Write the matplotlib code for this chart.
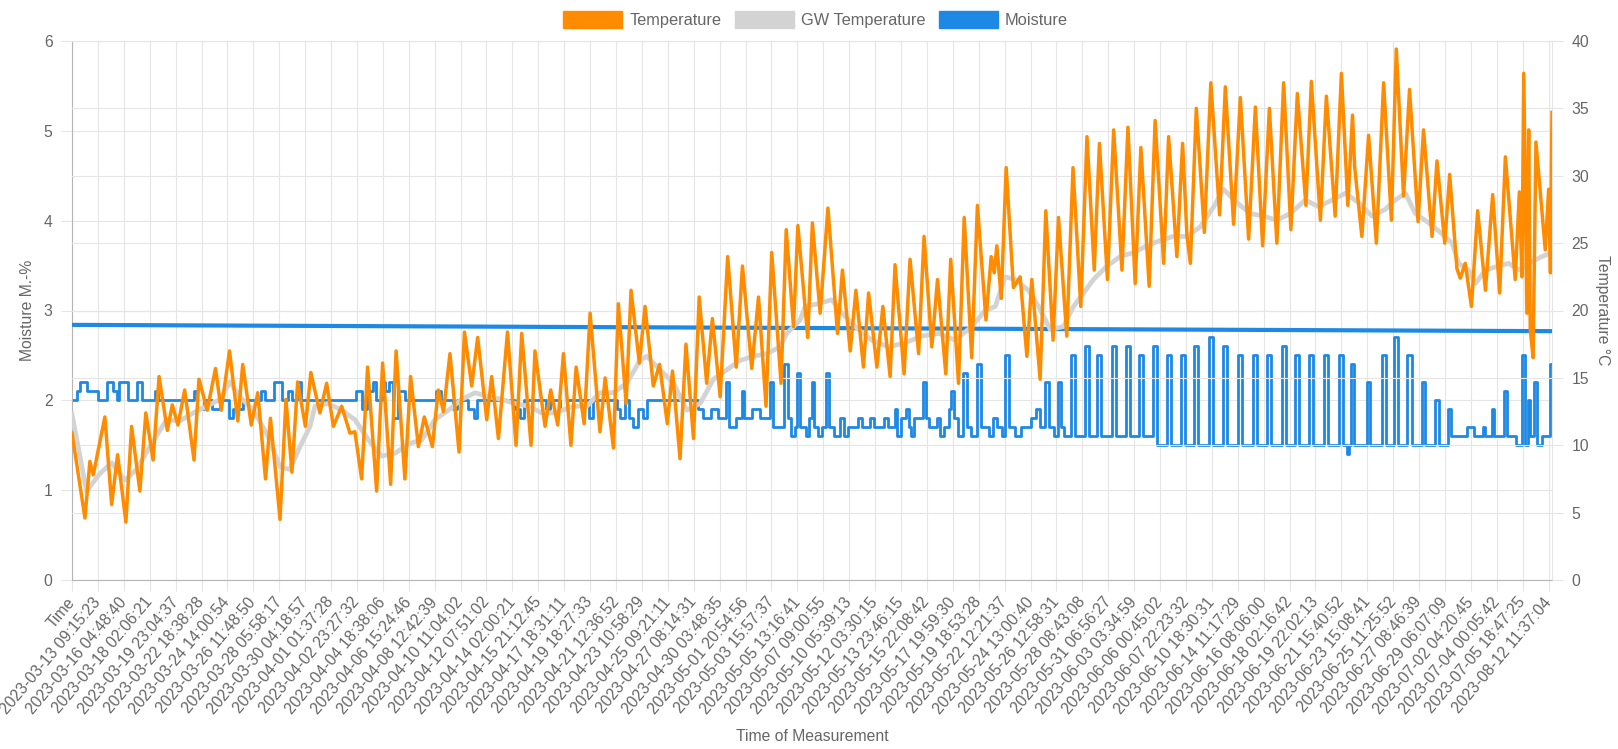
import matplotlib
matplotlib.use("Agg")
import matplotlib.pyplot as plt
from matplotlib.patches import Patch

# Beschriftungen der x-Achse (jeder angezeigte Tick)
x_labels = ["Time", "2023-03-13 09:15:23", "2023-03-16 04:48:40", "2023-03-18 02:06:21",
            "2023-03-19 23:04:37", "2023-03-22 18:38:28", "2023-03-24 14:00:54", "2023-03-26 11:48:50",
            "2023-03-28 05:58:17", "2023-03-30 04:18:57", "2023-04-01 01:37:28", "2023-04-02 23:27:32",
            "2023-04-04 18:38:06", "2023-04-06 15:24:46", "2023-04-08 12:42:39", "2023-04-10 11:04:02",
            "2023-04-12 07:51:02", "2023-04-14 02:00:21", "2023-04-15 21:12:45", "2023-04-17 18:31:11",
            "2023-04-19 18:27:33", "2023-04-21 12:36:52", "2023-04-23 10:58:29", "2023-04-25 09:21:11",
            "2023-04-27 08:14:31", "2023-04-30 03:48:35", "2023-05-01 20:54:56", "2023-05-03 15:57:37",
            "2023-05-05 13:16:41", "2023-05-07 09:00:55", "2023-05-10 05:39:13", "2023-05-12 03:30:15",
            "2023-05-13 23:46:15", "2023-05-15 22:08:42", "2023-05-17 19:59:30", "2023-05-19 18:53:28",
            "2023-05-22 12:21:37", "2023-05-24 13:00:40", "2023-05-26 12:58:31", "2023-05-28 08:43:08",
            "2023-05-31 06:56:27", "2023-06-03 03:34:59", "2023-06-06 00:45:02", "2023-06-07 22:23:32",
            "2023-06-10 18:30:31", "2023-06-14 11:17:29", "2023-06-16 08:06:00", "2023-06-18 02:16:42",
            "2023-06-19 22:02:13", "2023-06-21 15:40:52", "2023-06-23 15:08:41", "2023-06-25 11:25:52",
            "2023-06-27 08:46:39", "2023-06-29 06:07:09", "2023-07-02 04:20:45", "2023-07-04 00:05:42",
            "2023-07-05 18:47:25", "2023-08-12 11:37:04"]
x_end = 57.13  # letzter Messpunkt (in Tick-Einheiten)

# Temperatur: Hoch- und Tiefpunkte (Position in Tick-Einheiten, °C)
temp_pos = [0.0, 0.50, 0.69, 0.82, 1.27, 1.53, 1.76, 2.08, 2.30, 2.62, 2.85, 3.13, 3.36, 3.68, 3.87,
            4.09, 4.35, 4.71, 4.90, 5.22, 5.54, 5.76, 6.08, 6.40, 6.59, 6.92, 7.17, 7.47, 7.66, 8.03,
            8.26, 8.49, 8.71, 9.01, 9.22,
            9.57, 9.83, 10.09, 10.41, 10.73, 10.92, 11.18, 11.41, 11.76, 11.99, 12.30, 12.51, 12.85,
            13.07, 13.37, 13.60, 13.91, 14.14, 14.34, 14.59, 14.94, 15.15, 15.43, 15.66, 16.01, 16.20,
            16.46, 16.81, 17.14, 17.36, 17.72, 17.87, 18.26, 18.48, 18.75, 18.97,
            19.26, 19.46, 19.77, 20.0, 20.38, 20.58, 20.90, 21.09, 21.39, 21.58, 21.90, 22.12, 22.44,
            22.68, 22.98, 23.18, 23.47, 23.70, 23.99, 24.21, 24.50, 24.72, 25.02, 25.31, 25.64, 25.88,
            26.24, 26.50, 26.79, 27.01, 27.37, 27.57, 27.85, 28.02, 28.40,
            28.58, 28.88, 29.18, 29.55, 29.74, 30.04, 30.26, 30.55, 30.75, 31.07, 31.30, 31.58, 31.77,
            32.12, 32.35, 32.68, 32.89, 33.19, 33.41, 33.73, 33.92, 34.22, 34.44, 34.73, 34.95, 35.28,
            35.48, 35.60, 35.70, 35.87, 36.06, 36.34, 36.60, 36.86, 37.05, 37.37, 37.59, 37.87,
            38.08, 38.40, 38.64, 38.94, 39.18, 39.46, 39.66, 39.97, 40.21, 40.53, 40.76, 41.04, 41.26,
            41.58, 41.81, 42.14, 42.33, 42.65, 42.87, 43.04, 43.17, 43.40, 43.71, 43.96, 44.30, 44.52,
            44.84, 45.10, 45.42, 45.68, 45.96, 46.22, 46.51, 46.77, 47.05, 47.30,
            47.63, 47.84, 48.19, 48.42, 48.76, 49.0, 49.25, 49.43, 49.51, 49.79, 50.05, 50.35, 50.63,
            50.93, 51.12, 51.40, 51.63, 51.96, 52.17, 52.50, 52.69, 52.99, 53.18, 53.46, 53.59, 53.78,
            54.02, 54.26, 54.56, 54.84, 55.11, 55.33, 55.71, 55.87, 55.97, 56.04, 56.16, 56.23, 56.29,
            56.40, 56.51, 56.87, 57.0, 57.07, 57.13]
temp_val = [10.9, 4.6, 8.8, 7.8, 12.1, 5.6, 9.3, 4.3, 11.4, 6.6, 12.4, 8.9, 15.1, 11.1, 13.0,
            11.5, 14.1, 8.9, 14.9, 12.6, 15.7, 12.6, 17.0, 11.8, 16.0, 11.5, 13.9, 7.5, 12.0, 4.5,
            13.4, 8.0, 14.7, 11.4, 15.4,
            12.4, 14.6, 11.4, 12.9, 10.9, 11.0, 7.5, 15.8, 6.6, 16.1, 7.1, 17.0, 7.5,
            15.1, 9.9, 12.1, 9.9, 14.1, 12.5, 16.8, 9.5, 18.4, 14.4, 18.0, 11.9, 15.1,
            10.5, 18.4, 10.0, 18.3, 10.0, 17.0, 11.4, 14.1, 11.5, 16.8,
            10.0, 15.8, 11.6, 19.8, 11.0, 15.0, 9.8, 20.5, 13.1, 21.5, 16.1, 20.3, 14.4,
            16.0, 11.6, 15.5, 9.0, 17.5, 10.5, 21.0, 14.6, 19.4, 13.6, 24.0, 15.8, 23.3,
            15.7, 21.0, 12.9, 24.3, 14.6, 26.0, 18.8, 26.3, 18.0,
            26.5, 19.8, 27.6, 18.3, 23.0, 17.0, 21.5, 15.8, 21.3, 15.8, 20.3, 15.1, 23.4,
            15.3, 23.8, 16.8, 25.5, 17.3, 22.3, 15.3, 23.8, 14.6, 26.9, 16.5, 27.8, 19.3,
            24.0, 22.8, 24.8, 20.9, 30.6, 21.7, 22.5, 16.6, 22.3, 14.9, 27.4, 17.8,
            26.9, 18.1, 30.6, 20.3, 32.9, 23.0, 32.4, 22.3, 33.4, 23.0, 33.6, 22.0, 32.1,
            21.8, 34.1, 23.5, 32.9, 24.0, 32.4, 25.5, 23.5, 35.0, 25.8, 36.9, 27.1, 36.6,
            26.4, 35.8, 25.3, 35.1, 24.8, 35.0, 25.0, 36.9, 26.0, 36.1,
            27.8, 37.0, 26.7, 35.9, 27.0, 37.6, 27.8, 34.5, 30.7, 25.5, 33.0, 25.0, 36.9,
            26.7, 39.4, 28.5, 36.4, 26.6, 33.4, 25.5, 31.1, 25.0, 30.1, 23.1, 22.4, 23.5,
            20.3, 27.4, 21.5, 28.6, 21.3, 31.4, 22.3, 28.8, 22.5, 37.6, 19.8, 33.4, 18.6,
            16.5, 32.5, 24.5, 29.0, 22.8, 34.7]

# GW-Temperatur (geglaettet, °C)
gw_pos = [0.0, 0.56, 1.08, 1.53, 2.04, 2.49, 3.07, 3.65, 4.17, 4.68, 5.20, 5.71, 6.10, 6.48, 7.0,
          7.51, 8.03, 8.41, 8.80, 9.19, 9.38, 9.89, 10.41, 10.92, 11.44, 11.95, 12.47, 12.98, 13.5,
          14.01, 14.53, 15.04, 15.56, 16.07, 16.59, 17.10, 17.62, 18.13, 18.65, 19.35, 19.87, 20.38,
          20.90, 21.41, 21.93, 22.19, 22.70, 23.22, 23.73, 24.25, 24.76, 25.28, 25.79, 26.30, 26.82,
          27.33, 27.59, 27.85, 28.11, 28.30, 28.81, 29.33, 29.72, 30.23, 30.87, 31.52, 32.16, 32.80,
          33.45, 34.09, 34.73, 35.25, 35.64, 36.02, 36.41, 36.92, 37.31, 37.76, 38.27, 38.66, 39.05,
          39.43, 39.95, 40.46, 40.98, 41.49, 42.01, 42.52, 43.04, 43.55, 44.07, 44.45, 44.97, 45.48,
          46.0, 46.51, 47.03, 47.61, 48.12, 48.64, 49.15, 49.67, 50.18, 50.69, 51.08, 51.47, 51.85,
          52.37, 52.88, 53.27, 53.53, 53.91, 54.17, 54.56, 55.07, 55.46, 55.84, 56.23, 56.74, 57.13]
gw_val = [12.3, 6.6, 7.9, 8.7, 7.4, 8.2, 10.1, 11.9, 11.8, 12.4, 12.9, 13.4, 14.7, 13.6, 12.6,
          10.9, 8.4, 8.2, 9.9, 11.4, 12.9, 13.1, 12.6, 11.9, 10.4, 9.2, 9.4, 10.1, 10.4,
          11.9, 12.6, 13.4, 13.9, 13.6, 13.4, 13.1, 12.9, 12.4, 12.4, 12.9, 12.9, 13.9,
          13.9, 14.6, 16.3, 16.6, 15.6, 14.6, 12.6, 13.1, 14.9, 15.6, 16.3, 16.6, 16.8,
          17.3, 18.3, 18.8, 19.3, 20.3, 20.5, 20.8, 19.8, 18.8, 17.8, 17.3, 17.6, 18.1,
          18.3, 17.8, 18.8, 20.0, 20.3, 22.5, 22.3, 21.5, 20.3, 18.6, 18.8, 20.3, 21.3,
          22.3, 23.3, 24.0, 24.3, 24.8, 25.2, 25.5, 25.5, 26.2, 27.7, 29.0, 28.0, 27.2,
          27.0, 26.7, 27.2, 28.2, 27.7, 28.2, 28.7, 28.0, 27.0, 27.5, 28.2, 28.7, 27.2,
          26.5, 25.7, 25.0, 23.5, 23.0, 22.0, 23.0, 23.3, 23.5, 23.0, 23.5, 24.0, 24.3]

# Feuchte: Stufenwechsel (Position in Tick-Einheiten, M.-%)
moist_pos = [0.0, 0.18, 0.30, 0.58, 1.0, 1.35, 1.6, 1.72, 1.82, 2.17, 2.5, 2.7, 3.2, 3.32, 4.7,
             4.82, 5.1, 5.4, 5.7, 6.05, 6.2, 6.6, 7.3, 7.45, 7.8, 8.1, 8.35, 8.5, 8.7, 8.85,
             10.95, 11.2, 11.4, 11.6, 11.75, 11.95, 12.1, 12.25, 12.4, 12.6, 12.85, 14.05, 14.25,
             14.7, 14.85, 15.3, 15.5, 15.65, 17.1, 17.3, 17.45, 18.3, 18.45, 18.85, 19.1, 19.95,
             20.1, 21.05, 21.15, 21.35, 21.5, 21.65, 21.85, 22.05, 22.2, 24.15, 24.35, 24.65,
             24.95, 25.25, 25.35, 25.65, 25.85, 25.95, 26.25, 26.55, 26.95, 27.05, 27.5, 27.62,
             27.75, 27.9, 28.0, 28.12, 28.35, 28.45,
             28.55, 28.65, 28.8, 28.95, 29.12, 29.24, 29.4, 29.65, 29.8, 29.95, 30.35, 30.5, 30.8,
             30.95, 31.35, 31.5, 31.75, 31.85, 32.0, 32.2, 32.3, 32.4, 32.5, 32.85, 32.95, 33.1,
             33.4, 33.5, 33.65, 33.85, 33.92, 34.05, 34.2, 34.4, 34.55, 34.7, 34.95, 35.1, 35.4,
             35.55, 35.7, 35.9, 36.02, 36.17, 36.4, 36.65, 37.0, 37.2, 37.35, 37.55, 37.7, 37.9,
             38.08, 38.18, 38.3,
             38.57, 38.72, 39.10, 39.25, 39.58, 39.74, 40.13, 40.29, 40.68, 40.84, 41.18, 41.34,
             41.73, 41.89, 42.25, 42.41, 42.79, 42.95, 43.32, 43.48, 43.88, 44.04, 44.44, 44.60,
             45.02, 45.18, 45.60, 45.76, 46.14, 46.30, 46.69, 46.85, 47.22, 47.38, 47.76, 47.92,
             48.34, 48.50, 48.92, 49.08, 49.2, 49.28, 49.36, 49.50, 49.98, 50.12, 50.55, 50.71,
             51.04, 51.20, 51.55, 51.71, 52.10, 52.24, 52.63, 52.75, 53.12, 53.24, 53.85, 54.1,
             54.45, 54.55, 54.80, 54.90, 55.28, 55.40, 55.75, 55.97, 56.08, 56.20, 56.28, 56.45,
             56.55, 56.75, 57.05, 57.13]
moist_val = [2.0, 2.1, 2.2, 2.1, 2.0, 2.2, 2.1, 2.0, 2.2, 2.0, 2.2, 2.0, 2.1, 2.0, 2.1,
             1.9, 2.0, 1.9, 2.0, 1.8, 1.9, 2.0, 2.1, 2.0, 2.2, 2.0, 2.1, 2.0, 2.2, 2.0,
             2.1, 1.9, 2.1, 2.2, 2.0, 2.2, 2.1, 2.2, 1.8, 2.1, 2.0, 2.1, 2.0,
             1.9, 2.0, 1.9, 1.8, 2.0, 1.9, 1.8, 2.0, 1.9, 2.0, 1.9, 2.0, 1.8,
             2.0, 1.9, 1.8, 2.0, 1.8, 1.7, 1.9, 1.8, 2.0, 1.9, 1.8, 1.9,
             1.8, 2.2, 1.7, 1.8, 2.1, 1.8, 1.9, 1.8, 2.2, 1.7, 2.4, 1.8,
             1.6, 1.7, 2.3, 1.7, 1.6, 1.8,
             2.2, 1.7, 1.6, 1.7, 2.3, 1.7, 1.6, 1.8, 1.6, 1.7, 1.8, 1.7, 1.8,
             1.7, 1.8, 1.7, 1.9, 1.6, 1.8, 1.9, 1.7, 1.6, 1.8, 2.2, 1.8, 1.7,
             1.8, 1.6, 1.7, 1.9, 2.1, 1.8, 1.6, 2.3, 1.7, 1.6, 2.4, 1.7, 1.6,
             1.8, 1.7, 1.6, 2.5, 1.7, 1.6, 1.7, 1.8, 1.9, 1.7, 2.2, 1.7, 1.6,
             2.2, 1.7, 1.6,
             2.5, 1.6, 2.6, 1.6, 2.5, 1.6, 2.6, 1.6, 2.6, 1.6, 2.5, 1.6,
             2.6, 1.5, 2.5, 1.5, 2.5, 1.5, 2.6, 1.5, 2.7, 1.5, 2.6, 1.5,
             2.5, 1.5, 2.5, 1.5, 2.5, 1.5, 2.6, 1.5, 2.5, 1.5, 2.5, 1.5,
             2.5, 1.5, 2.5, 1.5, 1.4, 1.5, 2.4, 1.5, 2.2, 1.5, 2.5, 1.5,
             2.7, 1.5, 2.5, 1.5, 2.2, 1.5, 2.0, 1.5, 1.9, 1.6, 1.7, 1.6,
             1.7, 1.6, 1.9, 1.6, 2.1, 1.6, 1.5, 2.5, 1.5, 2.0, 1.6, 2.2,
             1.5, 1.6, 2.4, 2.4]

# Trendlinie Feuchte
trend_pos = [0.0, 57.13]
trend_val = [2.84, 2.77]

ORANGE = "#ff8c00"
GRAY = "#d3d3d3"
BLUE = "#1e88e5"
GRID = "#e5e5e5"
TXT = "#666666"

plt.rcParams['font.family'] = ['Liberation Sans', 'DejaVu Sans']

fig = plt.figure(figsize=(16.18, 7.49), dpi=100)
ax = fig.add_axes([72 / 1618, 1 - 580 / 749, (1552 - 72) / 1618, (580 - 41) / 749])
ax2 = ax.twinx()

ax.step(moist_pos, moist_val, where="post", color=BLUE, lw=2.0, zorder=2)
ax.plot(trend_pos, trend_val, color=BLUE, lw=3.0, zorder=3, solid_capstyle="butt")
ax2.plot(gw_pos, gw_val, color=GRAY, lw=3.4, zorder=2, solid_joinstyle="round")
ax2.plot(temp_pos, temp_val, color=ORANGE, lw=2.5, zorder=3, solid_joinstyle="round")

ax.set_xlim(0, x_end)
ax.set_ylim(0, 6)
ax2.set_ylim(0, 40)
ax.set_yticks(range(0, 7))
ax2.set_yticks(range(0, 41, 5))
ax.set_xticks(range(len(x_labels)))
ax.set_xticklabels(x_labels, rotation=50, ha="right", va="center", rotation_mode="anchor")

ax.grid(True, color=GRID, lw=0.8)
ax2.grid(True, axis="y", color=GRID, lw=0.8)
ax.set_axisbelow(True)
ax2.set_axisbelow(True)

for a in (ax, ax2):
    a.tick_params(axis="both", length=8, width=0.8, color=GRID, labelcolor=TXT, labelsize=11.3, pad=6)
    for s in a.spines.values():
        s.set_visible(False)
ax.spines["left"].set_visible(True)
ax.spines["left"].set_color("#b5b5b5")
ax.spines["bottom"].set_visible(True)
ax.spines["bottom"].set_color("#b5b5b5")
ax.spines["right"].set_visible(True)
ax.spines["right"].set_color(GRID)

ax.set_ylabel("Moisture M.-%", color=TXT, fontsize=11.3, labelpad=6)
ax2.set_ylabel("Temperature °C", color=TXT, fontsize=11.3, rotation=270, va="bottom", labelpad=4)
ax.set_xlabel("Time of Measurement", color=TXT, fontsize=11.3, labelpad=9)

handles = [Patch(facecolor=ORANGE, edgecolor=ORANGE, label="Temperature"),
           Patch(facecolor=GRAY, edgecolor=GRAY, label="GW Temperature"),
           Patch(facecolor=BLUE, edgecolor=BLUE, label="Moisture")]
fig.legend(handles=handles, loc="upper center", bbox_to_anchor=(0.504, 1.005), ncol=3, frameon=False,
           fontsize=11.8, labelcolor=TXT, handlelength=3.6, handleheight=1.2,
           handletextpad=0.45, columnspacing=0.8)

fig.savefig("out.png", dpi=100)
